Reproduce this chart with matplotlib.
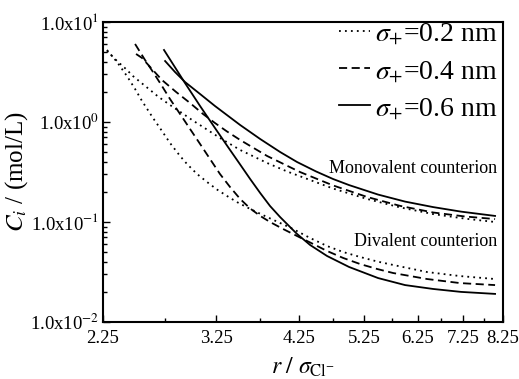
import matplotlib
matplotlib.use("Agg")
import matplotlib.pyplot as plt
from matplotlib.ticker import FixedLocator, FixedFormatter, LogLocator, NullFormatter
import numpy as np

plt.rcParams['font.family'] = ['Liberation Serif', 'DejaVu Serif']
plt.rcParams['mathtext.fontset'] = 'stix'

# ---- data (r / sigma_Cl-, C_i in mol/L) ----
r_02_mono = [2.28, 2.355, 2.424, 2.48, 2.554, 2.622, 2.69, 2.797, 2.908, 3.005, 3.114, 3.29, 3.513,
             3.835, 4.092, 4.409, 4.751, 5.305, 5.905, 6.574, 7.295, 8.04]
c_02_mono = [5.13, 4.07, 3.39, 2.88, 2.43, 2.09, 1.80, 1.479, 1.230, 1.047, 0.891, 0.692, 0.525,
             0.389, 0.320, 0.263, 0.216, 0.170, 0.140, 0.120, 0.108, 0.100]

r_02_div = [2.279, 2.355, 2.432, 2.497, 2.554, 2.647, 2.725, 2.797, 2.89, 2.956, 3.054, 3.155, 3.259,
            3.366, 3.478, 3.629, 3.835, 4.0, 4.171, 4.409, 4.659, 4.908, 5.186, 5.481, 5.773,
            6.447, 7.175, 8.04]
c_02_div = [5.25, 3.98, 2.88, 2.14, 1.622, 1.096, 0.813, 0.617, 0.457, 0.380, 0.302, 0.251, 0.211,
            0.182, 0.158, 0.135, 0.112, 0.0977, 0.0851, 0.0692, 0.0575, 0.0501, 0.0447, 0.0403,
            0.0372, 0.0316, 0.0288, 0.0269]

r_04_mono = [2.505, 2.554, 2.622, 2.725, 2.852, 2.985, 3.114, 3.237, 3.366, 3.513, 3.835, 4.267,
             4.751, 5.305, 5.905, 6.574, 7.295, 8.04]
c_04_mono = [4.79, 4.37, 3.55, 2.63, 2.0, 1.549, 1.202, 0.977, 0.804, 0.661, 0.457, 0.316,
             0.232, 0.178, 0.145, 0.1245, 0.1135, 0.107]

r_04_div = [2.497, 2.579, 2.647, 2.725, 2.797, 2.89, 2.966, 3.084, 3.185, 3.29, 3.399, 3.513,
            3.629, 3.749, 3.871, 4.039, 4.226, 4.452, 4.659, 4.908, 5.186, 5.481, 5.773, 6.447,
            7.175, 8.04]
c_04_div = [6.03, 4.17, 3.16, 2.29, 1.698, 1.202, 0.912, 0.603, 0.427, 0.302, 0.224, 0.170,
            0.1365, 0.115, 0.100, 0.0851, 0.0724, 0.0603, 0.0513, 0.0437, 0.0380, 0.0339, 0.0309,
            0.0269, 0.0245, 0.0234]

r_06_mono = [2.753, 2.843, 2.937, 3.084, 3.237, 3.513, 3.749, 4.0, 4.226, 4.496, 4.751, 5.004,
             5.499, 6.002, 6.574, 7.198, 8.04]
c_06_mono = [4.07, 3.16, 2.51, 1.905, 1.445, 0.933, 0.676, 0.501, 0.398, 0.320, 0.269, 0.234,
             0.188, 0.160, 0.141, 0.127, 0.115]

r_06_div = [2.743, 2.937, 3.084, 3.237, 3.377, 3.501, 3.629, 3.749, 3.871, 4.0, 4.131, 4.226,
            4.409, 4.659, 5.004, 5.499, 6.002, 6.574, 7.198, 8.04]
c_06_div = [5.25, 2.45, 1.445, 0.871, 0.562, 0.389, 0.269, 0.195, 0.1445, 0.112, 0.0891, 0.0759,
            0.0589, 0.0457, 0.0355, 0.0275, 0.0234, 0.0214, 0.0200, 0.0191]

legend_labels = [r'$\sigma_{+}$=0.2 nm', r'$\sigma_{+}$=0.4 nm', r'$\sigma_{+}$=0.6 nm']

x_major = [2.25, 3.25, 4.25, 5.25, 6.25, 7.25, 8.25]
x_major_labels = ['2.25', '3.25', '4.25', '5.25', '6.25', '7.25', '8.25']
x_minor = [2.75, 3.75, 4.75, 5.75, 6.75, 7.75]
y_major = [1e-2, 1e-1, 1e0, 1e1]
y_major_labels = [r'1.0x10$^{-2}$', r'1.0x10$^{-1}$', r'1.0x10$^{0}$', r'1.0x10$^{1}$']

# ---- figure ----
fig = plt.figure(figsize=(5.19, 3.79), dpi=100)
ax = fig.add_axes([103/519, 1-322/379, 400/519, 300/379])

lw = 1.3
dot_style = dict(color='black', lw=lw, linestyle=(0, (1, 2.3)))
dash_style = dict(color='black', lw=lw, linestyle=(0, (4.5, 2.5)))
solid_style = dict(color='black', lw=lw, linestyle='-')

l1, = ax.plot(r_02_mono, c_02_mono, **dot_style)
ax.plot(r_02_div, c_02_div, **dot_style)
l2, = ax.plot(r_04_mono, c_04_mono, **dash_style)
ax.plot(r_04_div, c_04_div, **dash_style)
l3, = ax.plot(r_06_mono, c_06_mono, **solid_style)
ax.plot(r_06_div, c_06_div, **solid_style)

ax.set_xscale('log')
ax.set_yscale('log')
ax.set_xlim(2.25, 8.25)
ax.set_ylim(1e-2, 1e1)

ax.xaxis.set_major_locator(FixedLocator(x_major))
ax.xaxis.set_major_formatter(FixedFormatter(x_major_labels))
ax.xaxis.set_minor_locator(FixedLocator(x_minor))
ax.xaxis.set_minor_formatter(NullFormatter())
ax.yaxis.set_major_locator(FixedLocator(y_major))
ax.yaxis.set_major_formatter(FixedFormatter(y_major_labels))
ax.yaxis.set_minor_locator(LogLocator(base=10, subs=np.arange(2, 10), numticks=20))
ax.yaxis.set_minor_formatter(NullFormatter())

ax.tick_params(which='both', direction='in', top=False, right=False, labelsize=13.5)
ax.tick_params(axis='x', pad=6)
ax.tick_params(axis='y', pad=3)
ax.tick_params(which='major', length=5, width=1.0)
ax.tick_params(which='minor', length=3, width=1.0)
for s in ax.spines.values():
    s.set_linewidth(1.5)

ax.set_xlabel(r'$r\ /\ \sigma_{\mathrm{Cl}^{-}}$', fontsize=17, labelpad=6)
ax.set_ylabel(r'$C_i$ / (mol/L)', fontsize=18, labelpad=0)

ax.text(0.985, 0.513, 'Monovalent counterion', transform=ax.transAxes, ha='right', va='center', fontsize=13)
ax.text(0.985, 0.267, 'Divalent counterion', transform=ax.transAxes, ha='right', va='center', fontsize=13)

ax.legend([l1, l2, l3], legend_labels, loc='upper right', bbox_to_anchor=(1.022, 1.05),
          frameon=False, fontsize=20, handlelength=1.1, handletextpad=0.2, labelspacing=0.43,
          borderaxespad=0.1)

fig.savefig('out.png', dpi=100)
